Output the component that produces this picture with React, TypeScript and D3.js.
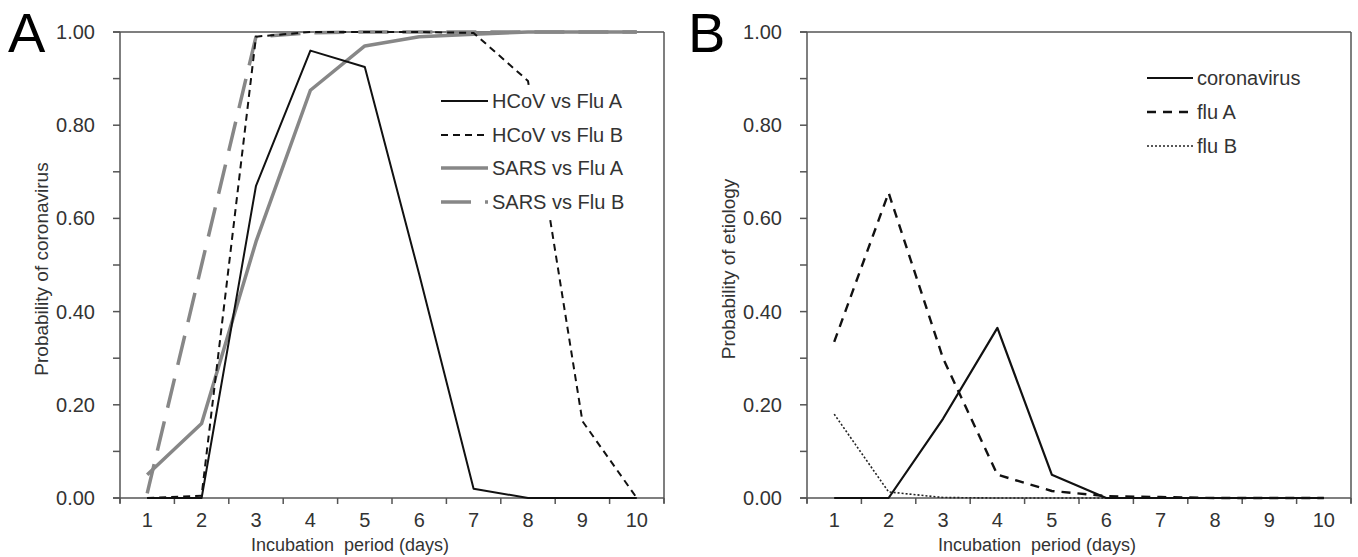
import React from "react";
import * as d3 from "d3";

const days = [1, 2, 3, 4, 5, 6, 7, 8, 9, 10];
const yTicksMajor = [0, 0.2, 0.4, 0.6, 0.8, 1.0];
const yTicksMinor = [0.1, 0.3, 0.5, 0.7, 0.9];

// Panel A
const hcovFluA = [0, 0, 0.67, 0.96, 0.925, 0.48, 0.02, 0.0, 0, 0];
const hcovFluB = [0, 0.005, 0.99, 1.0, 1.0, 1.0, 0.998, 0.895, 0.165, 0];
const sarsFluA = [0.05, 0.16, 0.55, 0.875, 0.97, 0.99, 0.995, 1.0, 1.0, 1.0];
const sarsFluB = [0.01, 0.5, 0.99, 0.998, 1.0, 1.0, 1.0, 1.0, 1.0, 1.0];

// Panel B
const coronavirus = [0, 0, 0.17, 0.365, 0.05, 0.0, 0, 0, 0, 0];
const fluA = [0.335, 0.655, 0.3, 0.05, 0.015, 0.004, 0.002, 0, 0, 0];
const fluB = [0.18, 0.013, 0.001, 0, 0, 0, 0, 0, 0, 0];

const FONT = "'Liberation Sans', Arial, sans-serif";
const TXT = "#333";
const AX = "#555";
const GRAY = "#878787";

type Series = { name: string; values: number[]; color: string; width: number; dash?: string };

const seriesA: Series[] = [
  { name: "HCoV vs Flu A", values: hcovFluA, color: "#111", width: 2 },
  { name: "HCoV vs Flu B", values: hcovFluB, color: "#111", width: 2, dash: "7,5" },
  { name: "SARS vs Flu A", values: sarsFluA, color: GRAY, width: 3.5 },
  { name: "SARS vs Flu B", values: sarsFluB, color: GRAY, width: 3.5, dash: "30,14" },
];

const seriesB: Series[] = [
  { name: "coronavirus", values: coronavirus, color: "#111", width: 2.2 },
  { name: "flu A", values: fluA, color: "#111", width: 2.4, dash: "9,7" },
  { name: "flu B", values: fluB, color: "#222", width: 1.6, dash: "2,2" },
];

type PanelProps = {
  left: number;
  right: number;
  letter: string;
  letterX: number;
  yTitle: string;
  series: Series[];
  legendLineX: number;
  legendY: number[];
  legendLineLen: number;
  drawOrder: number[];
};

function Panel(p: PanelProps) {
  const top = 32;
  const bottom = 498;
  const x = d3.scaleLinear().domain([0.5, 10.5]).range([p.left, p.right]);
  const y = d3.scaleLinear().domain([0, 1]).range([bottom, top]);
  const line = d3
    .line<number>()
    .x((_, i) => x(days[i]))
    .y((d) => y(d));
  const boundaries = d3.range(0.5, 11, 1);
  const fmt = d3.format(".2f");
  return (
    <g>
      <text x={p.letterX} y={52} fontFamily={FONT} fontSize={56} fill="#000">
        {p.letter}
      </text>
      {/* frame */}
      <line x1={p.left - 7} x2={p.right} y1={top} y2={top} stroke={AX} strokeWidth={1.5} />
      <line x1={p.right} x2={p.right} y1={top} y2={bottom + 5} stroke={AX} strokeWidth={1.5} />
      <line x1={p.left} x2={p.left} y1={top} y2={bottom + 5} stroke={AX} strokeWidth={1.5} />
      <line x1={p.left - 7} x2={p.right} y1={bottom} y2={bottom} stroke={AX} strokeWidth={1.5} />
      {yTicksMajor.concat(yTicksMinor).map((t) => (
        <line key={"yt" + t} x1={p.left - 7} x2={p.left} y1={y(t)} y2={y(t)} stroke={AX} strokeWidth={1.5} />
      ))}
      {yTicksMajor.map((t) => (
        <text
          key={"yl" + t}
          x={p.left - 25}
          y={y(t)}
          dy="0.35em"
          textAnchor="end"
          fontFamily={FONT}
          fontSize={20}
          fill={TXT}
        >
          {fmt(t)}
        </text>
      ))}
      {boundaries.map((b) => (
        <line key={"xt" + b} x1={x(b)} x2={x(b)} y1={bottom} y2={bottom + 6} stroke={AX} strokeWidth={1.5} />
      ))}
      {days.map((d) => (
        <text key={"xl" + d} x={x(d)} y={527} textAnchor="middle" fontFamily={FONT} fontSize={20} fill={TXT}>
          {d}
        </text>
      ))}
      <text
        x={(p.left + p.right) / 2 - 42}
        y={551}
        textAnchor="middle"
        fontFamily={FONT}
        fontSize={18}
        fill={TXT}
        style={{ whiteSpace: "pre" }}
      >
        {"Incubation  period (days)"}
      </text>
      <text
        transform={`translate(${p.left - 72},${(top + bottom) / 2 + 4}) rotate(-90)`}
        textAnchor="middle"
        fontFamily={FONT}
        fontSize={19}
        fill={TXT}
      >
        {p.yTitle}
      </text>
      {p.drawOrder.map((i) => {
        const s = p.series[i];
        return (
          <path
            key={s.name}
            d={line(s.values) || ""}
            fill="none"
            stroke={s.color}
            strokeWidth={s.width}
            strokeDasharray={s.dash}
            strokeLinejoin="round"
          />
        );
      })}
      {/* legend */}
      <rect
        x={p.legendLineX - 6}
        y={p.legendY[0] - 16}
        width={p.right - p.legendLineX - 8}
        height={p.legendY[p.legendY.length - 1] - p.legendY[0] + 32}
        fill="#fff"
      />
      {p.series.map((s, i) => (
        <g key={"lg" + s.name}>
          <line
            x1={p.legendLineX}
            x2={p.legendLineX + p.legendLineLen}
            y1={p.legendY[i]}
            y2={p.legendY[i]}
            stroke={s.color}
            strokeWidth={s.width}
            strokeDasharray={s.dash}
          />
          <text
            x={p.legendLineX + p.legendLineLen + 4}
            y={p.legendY[i]}
            dy="0.35em"
            fontFamily={FONT}
            fontSize={20}
            fill={TXT}
          >
            {s.name}
          </text>
        </g>
      ))}
    </g>
  );
}

export default function App() {
  return (
    <svg
      width={1358}
      height={557}
      style={{ position: "absolute", left: 0, top: 0, background: "#fff" }}
    >
      <rect width={1358} height={557} fill="#fff" />
      <Panel
        left={120}
        right={664}
        letter="A"
        letterX={8}
        yTitle="Probability of coronavirus"
        series={seriesA}
        legendLineX={441}
        legendLineLen={47}
        legendY={[101, 135, 168, 202]}
        drawOrder={[3, 2, 1, 0]}
      />
      <Panel
        left={807}
        right={1351}
        letter="B"
        letterX={688}
        yTitle="Probability of etiology"
        series={seriesB}
        legendLineX={1147}
        legendLineLen={46}
        legendY={[78, 112, 146]}
        drawOrder={[2, 1, 0]}
      />
    </svg>
  );
}
